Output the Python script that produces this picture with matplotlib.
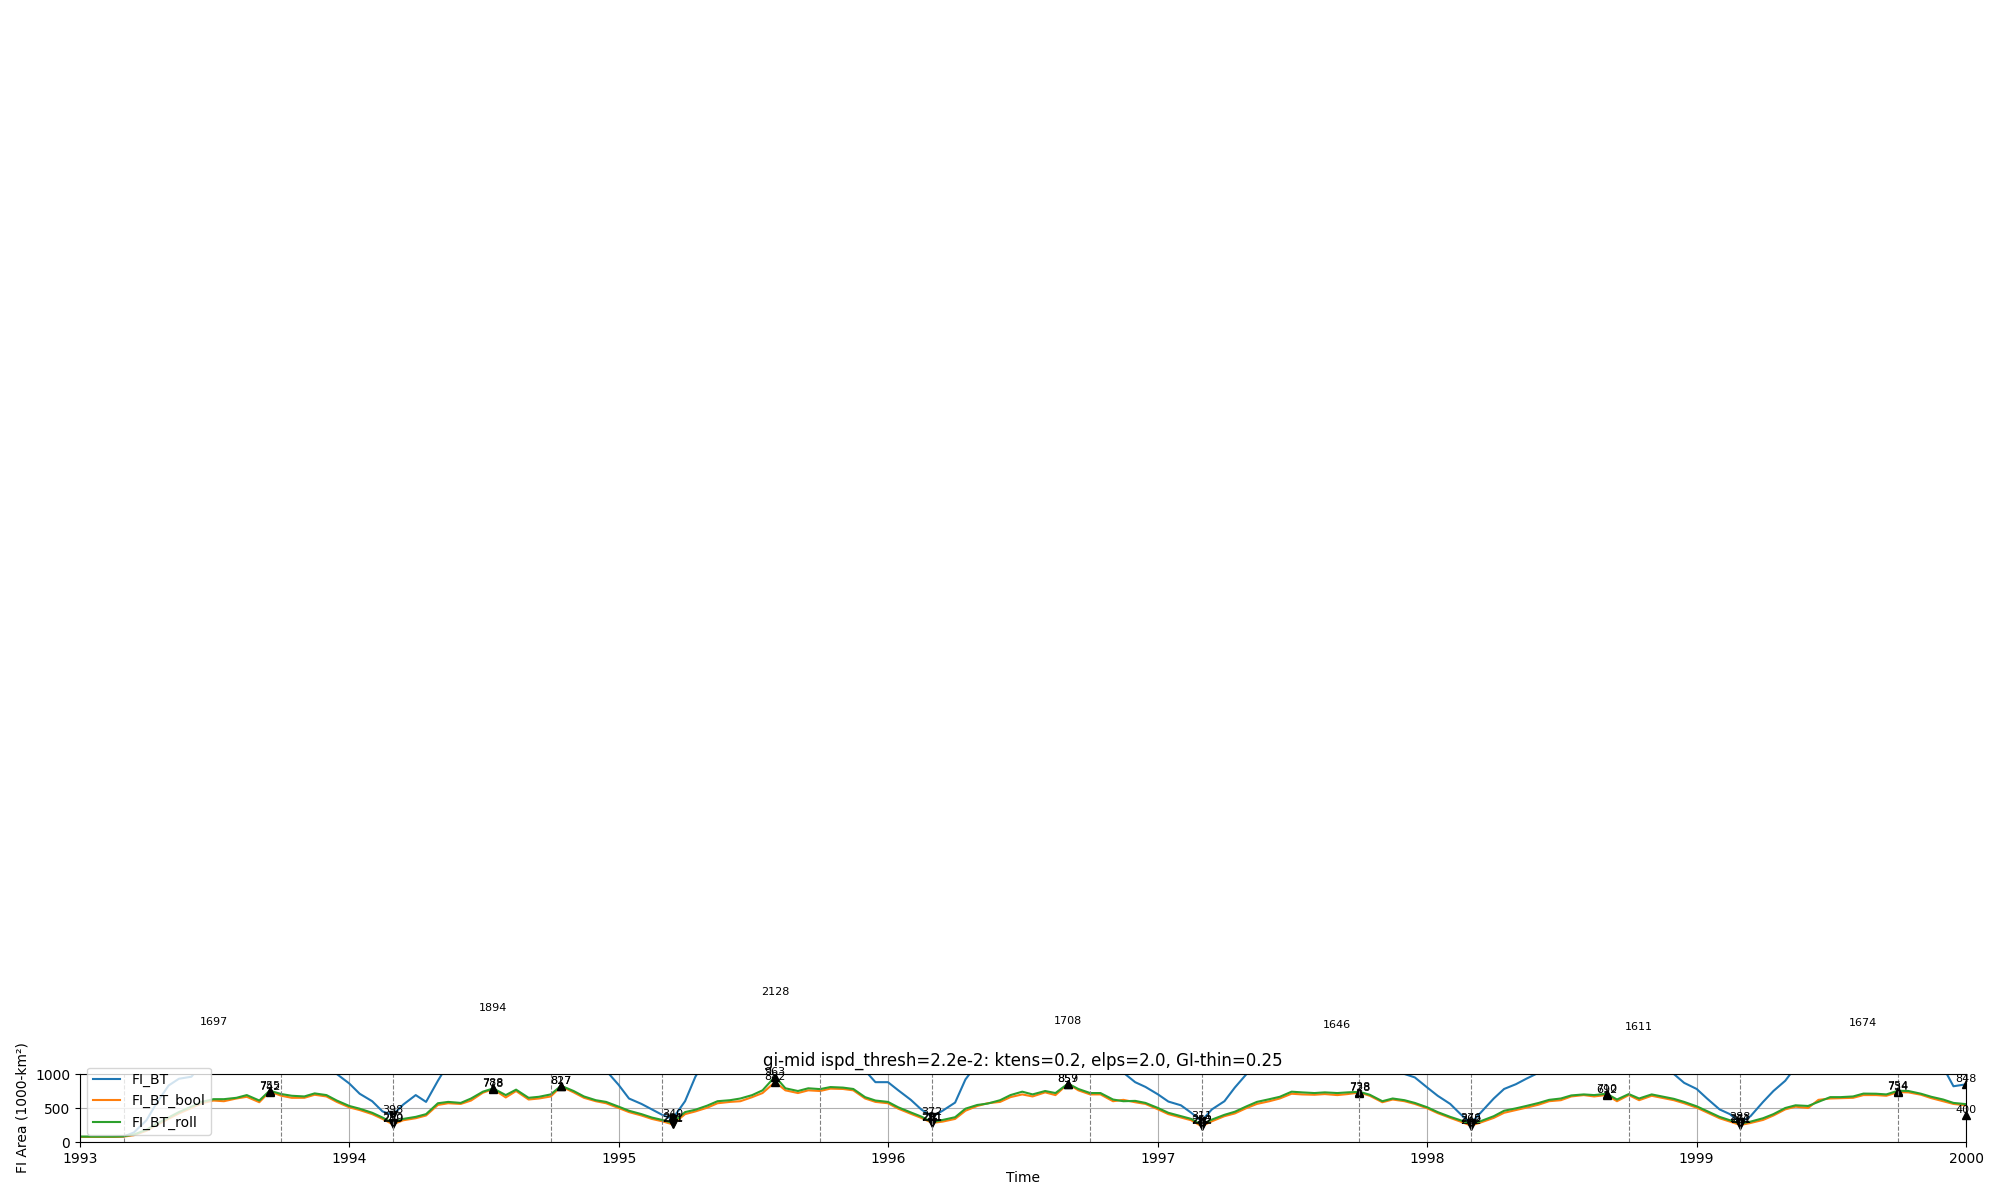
import numpy as np
import pandas as pd
import matplotlib
matplotlib.use('Agg')
import matplotlib.pyplot as plt
import matplotlib.dates as mdates

# semi-monthly samples, 1993-01-01 .. 2000-01-01
dates = pd.date_range('1993-01-01', '2000-01-01', freq='SMS').to_numpy()

fi_bt = np.array([
    75, 75, 75, 75, 80, 140, 320, 575, 830, 930,
    960, 1150, 1697, 1600, 1500, 1450, 1400, 1350, 1300, 1250,
    1200, 1100, 1040, 1000, 860, 710, 600, 450, 398, 550,
    690, 590, 900, 1150, 1350, 1550, 1750, 1894, 1800, 1700,
    1600, 1500, 1400, 1300, 1250, 1150, 1100, 1050, 840, 640,
    560, 480, 400, 340, 600, 960, 1250, 1500, 1700, 1850,
    1950, 2050, 2128, 2000, 1900, 1800, 1700, 1550, 1400, 1200,
    1050, 880, 880, 760, 620, 480, 372, 460, 580, 920,
    1150, 1300, 1400, 1500, 1550, 1600, 1650, 1680, 1708, 1600,
    1450, 1300, 1150, 1020, 880, 810, 700, 595, 540, 430,
    311, 480, 600, 800, 1000, 1150, 1250, 1350, 1450, 1500,
    1550, 1600, 1646, 1550, 1450, 1300, 1150, 1050, 1000, 950,
    800, 680, 560, 410, 276, 440, 640, 780, 850, 930,
    1020, 1100, 1200, 1300, 1400, 1450, 1500, 1550, 1580, 1611,
    1450, 1200, 1000, 870, 780, 640, 480, 410, 288, 380,
    590, 750, 900, 1100, 1300, 1450, 1550, 1600, 1650, 1674,
    1600, 1500, 1400, 1300, 1200, 1150, 1100, 820, 848])

fi_bt_bool = np.array([
    75, 75, 75, 75, 80, 100, 165, 250, 340, 420,
    500, 570, 610, 600, 640, 665, 585, 742, 680, 650,
    650, 695, 670, 590, 510, 470, 410, 340, 259, 320,
    350, 390, 545, 570, 560, 610, 725, 778, 655, 750,
    625, 640, 670, 817, 730, 650, 600, 570, 500, 440,
    390, 340, 305, 261, 410, 450, 505, 570, 590, 600,
    660, 720, 882, 760, 720, 760, 750, 785, 780, 760,
    640, 590, 570, 490, 415, 355, 281, 300, 340, 460,
    530, 570, 590, 660, 700, 670, 730, 690, 857, 760,
    700, 700, 600, 620, 585, 560, 480, 410, 360, 320,
    232, 305, 380, 420, 500, 560, 600, 640, 710, 700,
    695, 705, 690, 705, 728, 680, 585, 625, 600, 560,
    495, 425, 355, 300, 242, 290, 355, 430, 470, 505,
    550, 600, 615, 670, 690, 670, 692, 600, 690, 615,
    680, 650, 615, 570, 505, 435, 350, 300, 251, 280,
    325, 390, 480, 520, 500, 620, 640, 645, 650, 690,
    690, 680, 734, 730, 695, 645, 600, 560, 540])

fi_bt_roll = np.array([
    80, 80, 80, 80, 85, 110, 180, 270, 360, 440,
    520, 590, 630, 630, 650, 690, 610, 755, 705, 680,
    670, 715, 690, 610, 530, 490, 430, 360, 280, 340,
    370, 410, 570, 590, 575, 640, 740, 788, 690, 770,
    650, 665, 700, 827, 750, 670, 615, 590, 520, 460,
    410, 360, 325, 281, 440, 475, 535, 600, 615, 640,
    690, 760, 963, 790, 750, 790, 778, 808, 800, 780,
    660, 610, 590, 510, 435, 375, 291, 325, 365, 490,
    545, 565, 615, 690, 740, 700, 750, 720, 859, 780,
    720, 720, 625, 600, 605, 575, 500, 430, 380, 340,
    252, 330, 400, 445, 525, 590, 630, 665, 740, 730,
    720, 730, 720, 730, 738, 695, 600, 640, 615, 575,
    510, 440, 370, 320, 262, 310, 380, 460, 495, 530,
    575, 620, 640, 685, 700, 690, 710, 625, 705, 640,
    700, 670, 635, 590, 525, 455, 370, 320, 271, 300,
    350, 410, 500, 540, 530, 590, 660, 660, 670, 712,
    710, 700, 754, 750, 710, 665, 625, 575, 557])

# detected peaks / troughs (indices into dates)
max_idx = {'FI_BT': [12, 37, 62, 88, 112, 139, 159, 168],
           'FI_BT_bool': [17, 37, 43, 62, 88, 114, 136, 162],
           'FI_BT_roll': [17, 37, 43, 62, 88, 114, 136, 162]}
min_idx = {'FI_BT': [28, 53, 76, 100, 124, 148],
           'FI_BT_bool': [28, 53, 76, 100, 124, 148],
           'FI_BT_roll': [28, 53, 76, 100, 124, 148]}
extra_max_dates = ['2000-01-01']
extra_max_vals = [400]

season_lines = ['1993-03-01', '1993-10-01', '1994-03-01', '1994-10-01',
                '1995-03-01', '1995-10-01', '1996-03-01', '1996-10-01',
                '1997-03-01', '1997-10-01', '1998-03-01', '1998-10-01',
                '1999-03-01', '1999-10-01']

series = [('FI_BT', fi_bt), ('FI_BT_bool', fi_bt_bool), ('FI_BT_roll', fi_bt_roll)]

fig = plt.figure(figsize=(20, 12), dpi=100)
ax = fig.add_axes([0.04, 0.0483, 0.943, 0.0567])

for name, vals in series:
    ax.plot(dates, vals, label=name, lw=1.5)

for name, vals in series:
    mi = max_idx[name]
    ax.plot(dates[mi], vals[mi], 'k^', ls='none')
    for i in mi:
        ax.text(dates[i], vals[i], str(vals[i]), ha='center', va='bottom',
                fontsize=8)
    mn = min_idx[name]
    ax.plot(dates[mn], vals[mn], 'kv', ls='none')
    for i in mn:
        ax.text(dates[i], vals[i], str(vals[i]), ha='center', va='bottom',
                fontsize=8)

ed = np.array(extra_max_dates, dtype='datetime64[D]')
ax.plot(ed, extra_max_vals, 'k^', ls='none', clip_on=False)
for d, v in zip(ed, extra_max_vals):
    ax.text(d, v, str(v), ha='center', va='bottom', fontsize=8)

for d in season_lines:
    ax.axvline(np.datetime64(d), color='gray', ls='--', lw=0.8)

ax.grid(True)
ax.set_ylim(0, 1000)
ax.set_yticks([0, 500, 1000])
ax.set_xlim(np.datetime64('1993-01-01'), np.datetime64('2000-01-01'))
ax.xaxis.set_major_locator(mdates.YearLocator())
ax.xaxis.set_major_formatter(mdates.DateFormatter('%Y'))
ax.set_xlabel('Time')
ax.set_ylabel('FI Area (1000-km²)')
ax.set_title('gi-mid ispd_thresh=2.2e-2: ktens=0.2, elps=2.0, GI-thin=0.25')
ax.legend(loc='lower left')

fig.savefig('out.png')
